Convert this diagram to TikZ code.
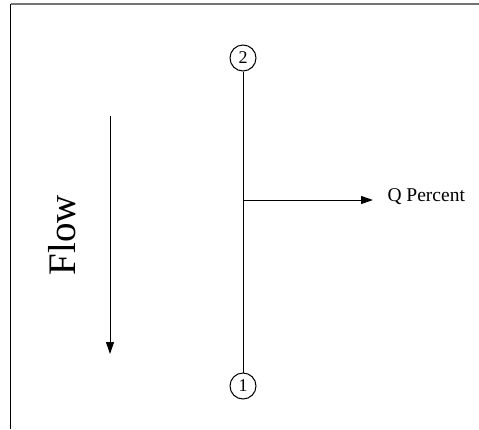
\documentclass[tikz,border=0pt]{standalone}
\usepackage{fontspec}
\setmainfont{Liberation Serif}
\usetikzlibrary{arrows.meta}
\begin{document}
\begin{tikzpicture}[x=1pt,y=-1pt,
  line width=1pt,
  numcirc/.style={draw,circle,minimum size=26pt,inner sep=0pt,font=\fontsize{18}{18}\selectfont},
  tip/.style={-{Triangle[length=12pt,width=8pt]}}]
\useasboundingbox (0,0) rectangle (479,429);
% border
\coordinate (tl) at (10.5,4);
\coordinate (bl) at (10.5,429);
\coordinate (tr) at (479,4);
\draw[line width=1.3pt] (bl) -- (tl);
\draw[line width=2.2pt,black!55] (tl) -- (tr);
% nodes
\node[numcirc] (n2) at (243,58) {2};
\node[numcirc] (n1) at (243,386) {1};
\draw (n2) -- (n1);
\coordinate (br) at (243,200);
\node[anchor=west,font=\fontsize{19.5}{19.5}\selectfont,inner sep=0pt] (q) at (387,197) {Q Percent};
\coordinate (qe) at (373,200);
\draw[tip] (br) -- (qe);
% flow
\coordinate (fs) at (110,116);
\coordinate (fe) at (110,354);
\draw[tip] (fs) -- (fe);
\node[rotate=90,font=\fontsize{39}{39}\selectfont,inner sep=0pt] (flow) at (62,235) {Flow};
\end{tikzpicture}
\end{document}
